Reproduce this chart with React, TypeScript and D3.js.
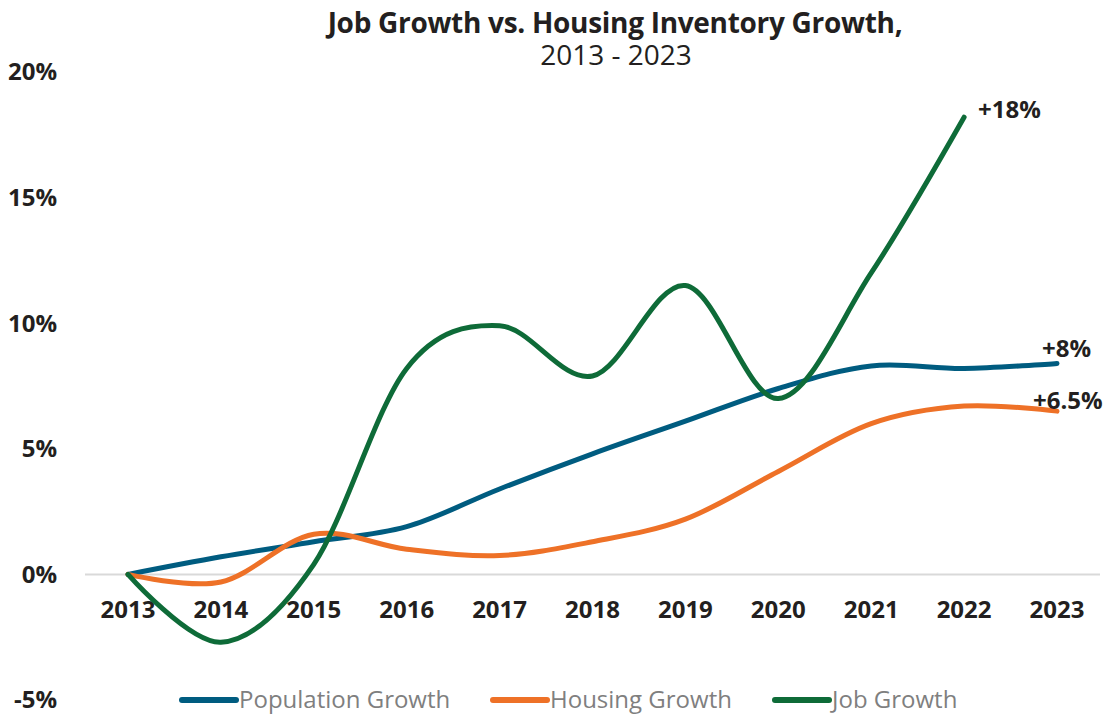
import React from "react";
import * as d3 from "d3";

const years = [2013, 2014, 2015, 2016, 2017, 2018, 2019, 2020, 2021, 2022, 2023];
const population = [0, 0.7, 1.3, 1.9, 3.4, 4.8, 6.1, 7.4, 8.3, 8.2, 8.4];
const housing = [0, -0.3, 1.6, 1.0, 0.75, 1.3, 2.2, 4.1, 6.0, 6.7, 6.5];
const jobs = [0, -2.7, 0.4, 8.2, 9.9, 7.9, 11.5, 7.0, 12.0, 18.2];
const yTicks = [-5, 0, 5, 10, 15, 20];
const seriesNames = ["Population Growth", "Housing Growth", "Job Growth"];
const seriesColors = ["#005C80", "#EE7127", "#0E6B38"];
const endLabels = ["+8%", "+6.5%", "+18%"];

export default function App() {
  const W = 1108, H = 715;
  const x = d3.scalePoint<number>().domain(years).range([128, 1057]);
  const y = d3.scaleLinear().domain([-5, 20]).range([700, 72]);
  const line = d3
    .line<number>()
    .x((_, i) => x(years[i])!)
    .y((d) => y(d))
    .curve(d3.curveCardinal.tension(0));
  const data = [population, housing, jobs];
  const font = "'Open Sans', sans-serif";
  const labelPos = [
    { dx: -15, dy: -6 },
    { dx: -24, dy: -2 },
    { dx: 14, dy: 1 },
  ];
  const legendX = [182, 493, 775];
  return (
    <svg width={W} height={H} style={{ position: "absolute", left: 0, top: 0 }}>
      <rect width={W} height={H} fill="#fff" />
      <text x={615} y={33} textAnchor="middle" fontFamily={font} fontWeight={700} fontSize={28} fill="#231f20" letterSpacing={-0.3}>
        Job Growth vs. Housing Inventory Growth,
      </text>
      <text x={616} y={65} textAnchor="middle" fontFamily={font} fontSize={28} fill="#231f20">
        2013 - 2023
      </text>
      <line x1={85} x2={1100} y1={y(0)} y2={y(0)} stroke="#d9d9d9" strokeWidth={2} />
      {yTicks.map((t) => (
        <text key={t} x={57} y={y(t)} dy="0.35em" textAnchor="end" fontFamily={font} fontWeight={700} fontSize={24} fill="#231f20">
          {t}%
        </text>
      ))}
      {years.map((yr) => (
        <text key={yr} x={x(yr)!} y={610} dy="0.35em" textAnchor="middle" fontFamily={font} fontWeight={700} fontSize={24} fill="#231f20">
          {yr}
        </text>
      ))}
      {data.map((s, i) => (
        <path key={i} d={line(s)!} fill="none" stroke={seriesColors[i]} strokeWidth={5} strokeLinecap="round" />
      ))}
      {data.map((s, i) => {
        const last = s.length - 1;
        return (
          <text key={i} x={x(years[last])! + labelPos[i].dx} y={y(s[last]) + labelPos[i].dy} textAnchor="start" fontFamily={font} fontWeight={700} fontSize={24} fill="#231f20">
            {endLabels[i]}
          </text>
        );
      })}
      {seriesNames.map((n, i) => (
        <g key={n}>
          <line x1={legendX[i]} x2={legendX[i] + 54} y1={700} y2={700} stroke={seriesColors[i]} strokeWidth={6} strokeLinecap="round" />
          <text x={legendX[i] + 57} y={700} dy="0.35em" fontFamily={font} fontSize={24} fill="#7f7f7f">
            {n}
          </text>
        </g>
      ))}
    </svg>
  );
}
